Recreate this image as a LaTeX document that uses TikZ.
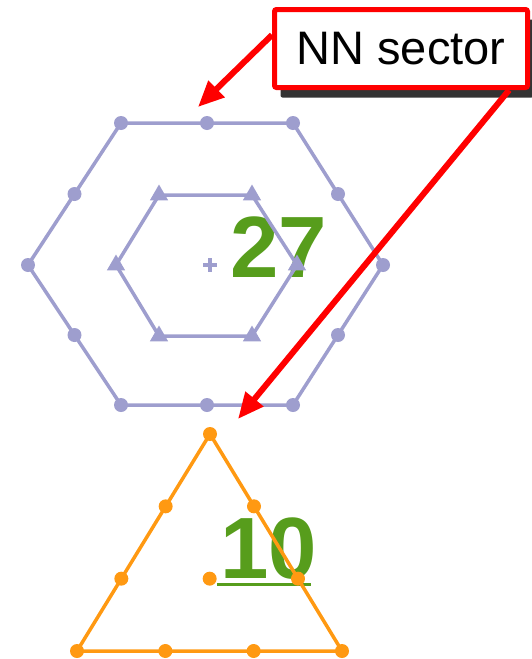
\documentclass[tikz,border=0pt]{standalone}
\usepackage{fontspec}
\setmainfont{Liberation Sans}
\usetikzlibrary{arrows.meta,calc,shapes.geometric,shadows}
\definecolor{HexBlue}{HTML}{9E9ECE}
\definecolor{TriOrange}{HTML}{FF9912}
\definecolor{CountGreen}{HTML}{579D1C}
\definecolor{NoteRed}{HTML}{FF0000}

\begin{document}
\begin{tikzpicture}[x=1pt,y=-1pt,
  hexline/.style={draw=HexBlue,line width=3.5pt},
  triline/.style={draw=TriOrange,line width=3.5pt},
  hexdot/.style={circle,fill=HexBlue,inner sep=0pt,minimum size=14pt},
  hexmark/.style={regular polygon,regular polygon sides=3,fill=HexBlue,inner sep=0pt,minimum size=21pt},
  tridot/.style={circle,fill=TriOrange,inner sep=0pt,minimum size=14pt},
  count/.style={font=\fontsize{87}{87}\selectfont\bfseries,text=CountGreen,inner sep=0pt},
  note/.style={draw=NoteRed,line width=5pt,fill=white,rounded corners=2pt,minimum width=253pt,minimum height=78pt,font=\fontsize{47}{47}\selectfont,drop shadow={shadow xshift=6pt,shadow yshift=-10pt,fill=black!80,opacity=1}},
  pointer/.style={-{Triangle[length=26pt,width=22pt]},line width=6pt,draw=NoteRed}
]
\useasboundingbox (0,0) rectangle (531,659);

% neighbour counts
\node[count,anchor=base west] (twentyseven) at (230,277) {27};
\node[count,anchor=base west] (ten) at (220,578) {10};
\draw[CountGreen,line width=3pt] ($(ten.base west)+(-3,6)$) -- ($(ten.base east)+(-6,6)$);

% hexagonal lattice
\coordinate (o1) at (121,123);
\coordinate (o2) at (293,123);
\coordinate (o3) at (383,265);
\coordinate (o4) at (293,405);
\coordinate (o5) at (121,405);
\coordinate (o6) at (28,265);
\coordinate (i1) at (159,195);
\coordinate (i2) at (252,195);
\coordinate (i3) at (297,265);
\coordinate (i4) at (252,336);
\coordinate (i5) at (159,336);
\coordinate (i6) at (116,265);
\coordinate (hexc) at (210,265);

\draw[hexline] (o1) -- (o2) -- (o3) -- (o4) -- (o5) -- (o6) -- cycle;
\draw[hexline] (i1) -- (i2) -- (i3) -- (i4) -- (i5) -- (i6) -- cycle;
\draw[HexBlue,line width=3.5pt] ($(hexc)+(-7,0)$) -- ($(hexc)+(7,0)$)
  ($(hexc)+(0,-7)$) -- ($(hexc)+(0,7)$);

\foreach \a/\b in {o1/o2,o2/o3,o3/o4,o4/o5,o5/o6,o6/o1} {
  \node[hexdot] (v-\a) at (\a) {};
  \node[hexdot] (m-\a) at ($(\a)!.5!(\b)$) {};
}
\foreach \a in {i1,i2,i3,i4,i5,i6}
  \node[hexmark] (v-\a) at (\a) {};

% triangular lattice
\coordinate (t1) at (210,434);
\coordinate (t2) at (77,651);
\coordinate (t3) at (342,651);

\draw[triline] (t1) -- (t2) -- (t3) -- cycle;
\foreach \a/\b in {t1/t2,t2/t3,t3/t1} {
  \node[tridot] (v-\a) at (\a) {};
  \node[tridot] (p-\a) at ($(\a)!1/3!(\b)$) {};
  \node[tridot] (q-\a) at ($(\a)!2/3!(\b)$) {};
}
\node[tridot] (tric) at ($(t1)!2/3!($(t2)!.5!(t3)$)$) {};

% callout
\coordinate (hexTop) at (198,107);
\coordinate (triTop) at (238,419);
\node[note] (note) at (401,48.5) {NN sector};
\draw[pointer] (note.174) -- (hexTop);
\draw[pointer] (note.-21) -- (triTop);
\end{tikzpicture}
\end{document}
